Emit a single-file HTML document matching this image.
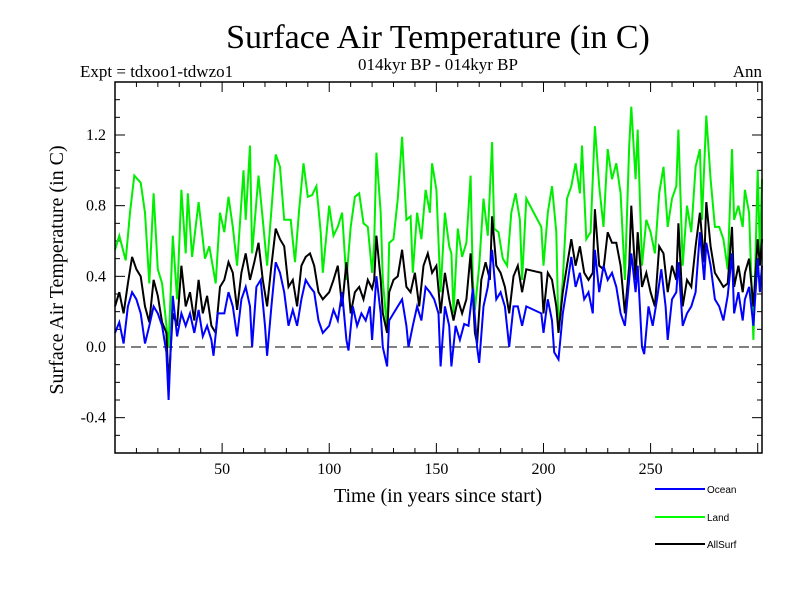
<!DOCTYPE html>
<html><head><meta charset="utf-8"><style>
body{margin:0;background:#fff;}
svg text{font-family:"Liberation Serif",serif;}
</style></head><body>
<svg id="chart" width="800" height="600" xmlns="http://www.w3.org/2000/svg">
<rect width="800" height="600" fill="#fff"/>
<text x="438" y="48" font-size="34" text-anchor="middle">Surface Air Temperature (in C)</text>
<text x="80" y="77" font-size="17">Expt = tdxoo1-tdwzo1</text>
<text x="438" y="70" font-size="17" text-anchor="middle">014kyr BP - 014kyr BP</text>
<text x="762" y="77" font-size="17" text-anchor="end">Ann</text>
<text transform="translate(63,270) rotate(-90)" font-size="20" text-anchor="middle">Surface Air Temperature (in C)</text>
<text x="438" y="502" font-size="20" text-anchor="middle">Time (in years since start)</text>
<g id="ticks"></g>
<g id="series"></g>
<rect x="115" y="82" width="647" height="371" fill="none" stroke="#000" stroke-width="1.5"/>
<g font-family="Liberation Sans, sans-serif">
<line x1="655" y1="489" x2="705" y2="489" stroke="#0000ff" stroke-width="2"/>
<text x="707" y="493" font-size="10" style="font-family:'Liberation Sans',sans-serif">Ocean</text>
<line x1="655" y1="517" x2="705" y2="517" stroke="#00ff00" stroke-width="2"/>
<text x="707" y="521" font-size="10" style="font-family:'Liberation Sans',sans-serif">Land</text>
<line x1="655" y1="544" x2="705" y2="544" stroke="#000" stroke-width="2"/>
<text x="707" y="548" font-size="10" style="font-family:'Liberation Sans',sans-serif">AllSurf</text>
</g>
</svg>
<script>
const xTickLabels=[50,100,150,200,250];
const yTickLabels=[-0.4,0.0,0.4,0.8,1.2];
const landYears=[0,2,5,7,9,12,14,16,18,20,22,25,27,29,31,33,34,36,39,42,44,47,49,51,53,55,57,60,61,63,64,67,69,71,75,77,79,82,84,86,88,90,92,94,96,97,100,102,104,106,108,110,112,114,116,118,120,121,122,124,125,127,128,130,132,134,136,138,139,141,143,145,147,148,150,152,154,156,157,158,160,162,164,166,167,168,170,172,174,176,177,179,181,183,185,187,189,190,192,199,200,202,204,206,207,209,211,213,215,217,218,220,222,224,226,228,230,232,234,236,238,240,241,243,244,246,248,250,252,254,256,258,260,262,263,265,267,269,271,273,274,276,278,280,282,284,286,288,289,291,293,294,296,298,300,301,302];
const landVals=[0.55,0.63,0.49,0.76,0.97,0.93,0.76,0.36,0.87,0.44,0.36,0.0,0.63,0.27,0.89,0.53,0.87,0.51,0.82,0.50,0.57,0.36,0.76,0.65,0.85,0.68,0.46,1.0,0.72,1.14,0.53,0.97,0.72,0.46,1.09,1.02,0.72,0.72,0.48,0.78,1.04,0.85,0.86,0.91,0.65,0.42,0.80,0.63,0.68,0.76,0.38,0.68,0.85,0.87,0.70,0.68,0.42,0.59,1.10,0.76,0.38,0.10,0.59,0.61,0.84,1.19,0.72,0.74,0.42,0.76,0.61,0.89,0.76,1.04,0.89,0.31,0.76,0.57,0.53,0.19,0.67,0.51,0.59,0.97,0.38,0.21,0.46,0.84,0.63,1.16,0.67,0.65,0.50,0.46,0.76,0.87,0.72,0.38,0.84,0.68,0.46,0.76,0.91,0.65,0.08,0.38,0.84,0.91,1.04,0.87,1.14,0.61,0.65,1.25,0.91,0.68,1.12,0.95,1.04,0.87,0.38,1.14,1.36,0.95,1.23,0.46,0.72,0.65,0.53,0.87,1.02,0.68,0.84,0.91,1.23,0.46,0.80,0.65,1.02,1.12,0.72,1.31,0.95,0.68,0.68,0.61,0.44,1.12,0.72,0.80,0.68,0.89,0.76,0.04,1.0,0.53,0.95];
const allYears=[0,2,4,6,8,10,12,14,16,18,20,22,24,25,27,29,31,33,35,37,39,41,43,45,47,49,51,53,55,57,59,61,63,65,67,69,71,73,75,77,79,81,83,85,87,89,91,93,95,97,100,102,104,106,108,110,112,114,116,118,120,121,122,124,125,127,128,130,132,134,136,138,140,142,144,146,148,150,152,154,156,158,160,162,164,166,168,169,171,173,175,176,178,180,182,184,186,188,190,192,199,200,202,204,206,207,209,211,213,215,217,219,221,223,224,226,228,230,232,234,236,238,240,241,243,244,246,248,250,252,254,256,258,260,262,263,265,267,269,271,273,275,276,278,280,282,284,286,288,289,291,293,294,296,298,300,301,302];
const allVals=[0.23,0.31,0.19,0.36,0.51,0.44,0.40,0.23,0.14,0.38,0.29,0.14,0.08,-0.22,0.19,0.12,0.46,0.23,0.31,0.15,0.38,0.19,0.29,0.12,0.08,0.34,0.38,0.48,0.42,0.21,0.42,0.53,0.38,0.48,0.59,0.38,0.23,0.46,0.67,0.61,0.57,0.34,0.38,0.23,0.46,0.51,0.53,0.46,0.31,0.27,0.31,0.38,0.46,0.23,0.48,0.19,0.31,0.34,0.27,0.38,0.33,0.38,0.63,0.38,0.19,0.08,0.31,0.38,0.40,0.55,0.34,0.31,0.42,0.23,0.46,0.53,0.42,0.46,0.19,0.42,0.27,0.15,0.27,0.19,0.27,0.53,0.08,0.02,0.38,0.48,0.38,0.74,0.46,0.42,0.34,0.19,0.40,0.46,0.31,0.44,0.42,0.19,0.42,0.38,0.23,0.08,0.31,0.46,0.61,0.46,0.57,0.42,0.38,0.42,0.78,0.46,0.44,0.65,0.59,0.59,0.46,0.19,0.46,0.80,0.38,0.65,0.34,0.42,0.31,0.23,0.57,0.53,0.31,0.46,0.38,0.70,0.23,0.38,0.34,0.57,0.76,0.48,0.82,0.57,0.42,0.38,0.34,0.36,0.68,0.34,0.46,0.31,0.42,0.50,0.23,0.61,0.46,0.61];
const oceanYears=[0,2,4,6,8,10,12,14,16,18,20,22,24,25,27,29,31,33,35,37,39,41,43,45,46,48,51,53,55,57,59,61,63,64,66,68,70,71,73,75,77,79,81,83,85,87,89,91,93,95,97,100,102,104,106,108,109,111,113,115,117,119,120,122,124,125,127,128,130,132,134,136,137,139,141,143,145,147,149,151,152,154,156,157,159,161,163,165,167,169,170,172,174,176,178,180,182,184,186,188,190,192,199,200,202,204,205,207,209,211,213,215,217,219,221,223,224,226,228,230,232,234,236,238,240,241,243,244,246,247,249,251,253,255,257,258,260,262,263,265,267,269,271,273,275,276,278,280,282,284,286,288,289,291,293,294,296,298,300,301,302];
const oceanVals=[0.08,0.14,0.02,0.23,0.31,0.27,0.19,0.02,0.12,0.23,0.19,0.12,-0.03,-0.30,0.29,0.06,0.19,0.12,0.19,0.08,0.21,0.06,0.12,0.04,-0.05,0.19,0.19,0.31,0.23,0.06,0.27,0.34,0.23,0.0,0.34,0.38,0.12,-0.05,0.23,0.48,0.42,0.31,0.12,0.21,0.12,0.27,0.38,0.34,0.31,0.15,0.08,0.12,0.21,0.15,0.31,0.04,-0.02,0.23,0.12,0.19,0.15,0.23,0.04,0.40,0.19,0.0,-0.11,0.15,0.19,0.23,0.27,0.12,0.0,0.12,0.23,0.15,0.34,0.31,0.27,0.19,-0.11,0.23,0.12,-0.11,0.12,0.04,0.13,0.12,0.33,0.0,-0.09,0.23,0.34,0.55,0.27,0.31,0.23,0.0,0.23,0.23,0.12,0.23,0.19,0.08,0.27,0.15,-0.03,-0.07,0.19,0.34,0.51,0.34,0.42,0.27,0.31,0.19,0.55,0.31,0.46,0.38,0.42,0.34,0.19,0.12,0.38,0.53,0.31,0.46,0.0,-0.04,0.23,0.12,0.27,0.44,0.23,0.04,0.27,0.31,0.48,0.12,0.19,0.23,0.31,0.65,0.38,0.59,0.46,0.27,0.23,0.15,0.29,0.53,0.19,0.31,0.15,0.27,0.34,0.12,0.50,0.31,0.46];

const NS='http://www.w3.org/2000/svg';
const X0=115,X1=762,Y0=82,Y1=453,XMIN=0,XMAX=302,YMIN=-0.6,YMAX=1.5;
function sx(v){return X0+(v-XMIN)/(XMAX-XMIN)*(X1-X0);}
function sy(v){return Y1-(v-YMIN)/(YMAX-YMIN)*(Y1-Y0);}
function mk(tag,attrs,parent){const e=document.createElementNS(NS,tag);for(const k in attrs)e.setAttribute(k,attrs[k]);parent.appendChild(e);return e;}
const tg=document.getElementById('ticks');
for(let yr=10;yr<=300;yr+=10){const X=sx(yr);const L=(yr%50===0)?10:5;
 const a=mk('line',{x1:X,y1:Y1,x2:X,y2:Y1-L,stroke:'#000'},tg);
 
 
 const b=mk('line',{x1:X,y1:Y0,x2:X,y2:Y0+L,stroke:'#000'},tg);
 
 }
for(let i=-5;i<=14;i++){const v=i/10;const Y=sy(v);const L=(i%4===0)?10:5;
 const a=mk('line',{x1:X0,y1:Y,x2:X0+L,y2:Y,stroke:'#000'},tg);
 
 
 const b=mk('line',{x1:X1,y1:Y,x2:X1-L,y2:Y,stroke:'#000'},tg);
 
 }
xTickLabels.forEach(v=>{const t=mk('text',{x:sx(v),y:474,'font-size':16,'text-anchor':'middle'},tg);t.textContent=v;
 
 });
yTickLabels.forEach(v=>{const t=mk('text',{x:106,y:sy(v)+5,'font-size':16,'text-anchor':'end'},tg);t.textContent=v.toFixed(1);
 
 });
const zl=mk('line',{x1:X0,y1:sy(0),x2:X1,y2:sy(0),stroke:'#000','stroke-dasharray':'10,6'},tg);


const sg=document.getElementById('series');
function draw(xs,ys,color,name){const d=xs.map((x,i)=>(i?'L':'M')+sx(x).toFixed(1)+','+sy(ys[i]).toFixed(1)).join('');
 const p=mk('path',{d:d,fill:'none',stroke:color,'stroke-width':2},sg);
 
 }
draw(landYears,landVals,'#00ee00','land-line');
draw(allYears,allVals,'#000000','allsurf-line');
draw(oceanYears,oceanVals,'#0000ff','ocean-line');
</script>
</body></html>
